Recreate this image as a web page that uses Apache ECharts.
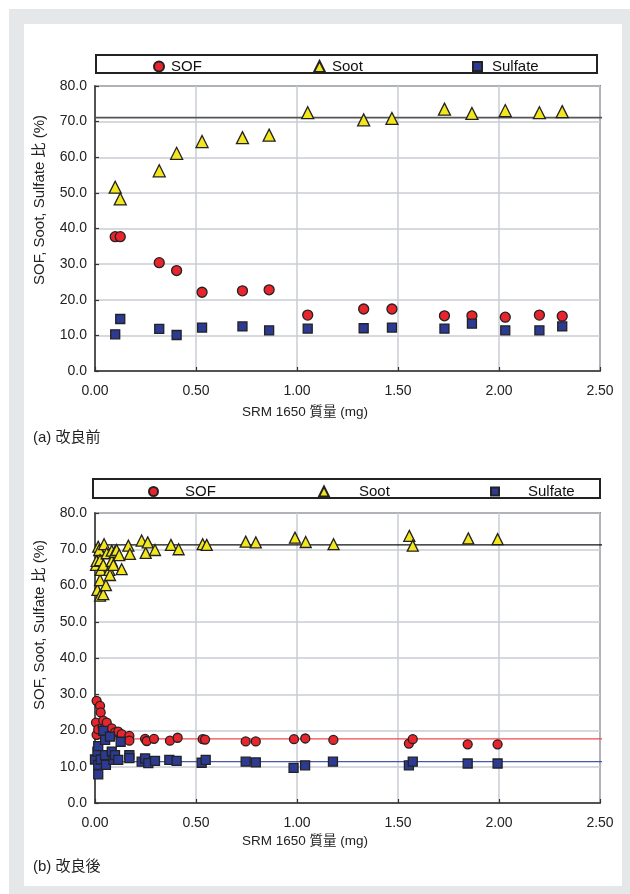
<!DOCTYPE html>
<html>
<head>
<meta charset="utf-8">
<script src="https://cdn.jsdelivr.net/npm/echarts@6/dist/echarts.min.js"></script>
<style>
  html, body { margin: 0; padding: 0; background: #ffffff; }
  #frame { position: absolute; left: 9px; top: 9px; width: 621px; height: 885px; background: #e6e7e9; }
  #panel { position: absolute; left: 24px; top: 24px; width: 598px; height: 862px; background: #ffffff; }
  #chart { position: absolute; left: 0; top: 0; width: 630px; height: 894px; }
</style>
</head>
<body>
<div id="frame"></div>
<div id="panel"></div>
<div id="chart"></div>
<script>
// Axis ticks shared by both panels
const xTicks = [0, 0.5, 1.0, 1.5, 2.0, 2.5];
const yTicks = [0, 10, 20, 30, 40, 50, 60, 70, 80];
// Horizontal reference lines run from x = 0 to just past the right frame
const refSpan = [0, 2.52];

// (a) before improvement: SRM 1650 mass (mg) per run and the three fractions (%)
const aMass    = [0.100, 0.125, 0.318, 0.404, 0.530, 0.730, 0.862, 1.053, 1.330, 1.470, 1.730, 1.866, 2.031, 2.200, 2.313];
const aSOF     = [37.7, 37.7, 30.4, 28.2, 22.1, 22.5, 22.8, 15.7, 17.4, 17.4, 15.5, 15.5, 15.1, 15.7, 15.4];
const aSoot    = [51.6, 48.3, 56.2, 61.1, 64.4, 65.5, 66.2, 72.5, 70.5, 70.9, 73.5, 72.3, 73.1, 72.5, 72.8];
const aSulfate = [10.3, 14.6, 11.8, 10.1, 12.2, 12.5, 11.4, 11.9, 12.0, 12.2, 11.9, 13.3, 11.4, 11.4, 12.5];
const aSootRef = 71.1;

// (b) after improvement
const bSootMass = [0.005, 0.008, 0.012, 0.016, 0.021, 0.025, 0.025, 0.025, 0.028, 0.041, 0.041, 0.045, 0.054, 0.058, 0.071, 0.074, 0.083, 0.083, 0.091, 0.099, 0.107, 0.120, 0.132, 0.165, 0.173, 0.231, 0.251, 0.261, 0.297, 0.376, 0.414, 0.533, 0.553, 0.746, 0.796, 0.990, 1.043, 1.181, 1.556, 1.573, 1.848, 1.993];
const bSoot     = [65.7, 66.8, 58.8, 70.7, 69.8, 67.0, 61.5, 57.2, 64.3, 65.7, 57.6, 71.4, 60.1, 68.9, 64.3, 62.9, 69.6, 66.8, 65.7, 69.3, 69.8, 68.4, 64.5, 71.0, 68.7, 72.4, 69.0, 71.9, 69.8, 71.2, 70.0, 71.4, 71.2, 72.1, 71.9, 73.2, 72.0, 71.4, 73.7, 71.0, 73.0, 72.8];
const bSOFMass  = [0.005, 0.008, 0.008, 0.016, 0.025, 0.028, 0.038, 0.041, 0.050, 0.058, 0.071, 0.083, 0.099, 0.115, 0.132, 0.170, 0.170, 0.248, 0.256, 0.292, 0.371, 0.409, 0.533, 0.545, 0.746, 0.796, 0.985, 1.041, 1.180, 1.554, 1.573, 1.845, 1.993];
const bSOF      = [22.2, 28.2, 18.8, 20.3, 26.8, 25.0, 21.0, 22.7, 20.8, 22.2, 19.7, 20.6, 19.5, 19.7, 19.0, 18.5, 17.2, 17.7, 17.1, 17.7, 17.2, 18.0, 17.6, 17.5, 17.0, 17.0, 17.6, 17.8, 17.4, 16.4, 17.6, 16.2, 16.2];
const bSulMass  = [0.000, 0.012, 0.016, 0.016, 0.016, 0.028, 0.041, 0.050, 0.050, 0.054, 0.074, 0.083, 0.091, 0.099, 0.115, 0.127, 0.170, 0.170, 0.231, 0.248, 0.264, 0.297, 0.368, 0.404, 0.528, 0.548, 0.746, 0.796, 0.983, 1.040, 1.178, 1.554, 1.573, 1.845, 1.993];
const bSulfate  = [12.0, 14.2, 15.7, 10.5, 7.9, 12.0, 19.9, 17.4, 13.2, 10.5, 18.3, 14.2, 11.9, 13.2, 11.9, 16.9, 13.2, 12.4, 11.4, 12.3, 11.0, 11.6, 11.9, 11.6, 11.1, 11.9, 11.4, 11.2, 9.7, 10.4, 11.4, 10.4, 11.4, 10.9, 10.9];
const bSootRef = 71.2, bSOFRef = 17.7, bSulRef = 11.4;

const FONT = "'Liberation Sans', Arial, 'Noto Sans CJK JP', sans-serif";
const RED = '#e8242c', YELLOW = '#f4e61c', NAVY = '#2c3a92', EDGE = '#222222';

const zip = (xs, ys) => xs.map((x, i) => [x, ys[i]]);

function xAxisFor(gi) {
  return {
    type: 'value', gridIndex: gi, min: xTicks[0], max: xTicks[xTicks.length - 1], interval: 0.5,
    axisLine: { show: true, onZero: false, lineStyle: { color: '#333', width: 1.5 } },
    axisTick: { show: true, inside: true, length: 4, lineStyle: { color: '#333', width: 1.2 } },
    axisLabel: { margin: 13, fontSize: 14, color: '#222', fontFamily: FONT, formatter: v => v.toFixed(2) },
    splitLine: { show: true, lineStyle: { color: '#c9ccd3', width: 1.5 } }
  };
}
function yAxisFor(gi) {
  return {
    type: 'value', gridIndex: gi, min: yTicks[0], max: yTicks[yTicks.length - 1], interval: 10,
    axisLine: { show: true, onZero: false, lineStyle: { color: '#333', width: 1.5 } },
    axisTick: { show: true, inside: true, length: 4, lineStyle: { color: '#333', width: 1.2 } },
    axisLabel: { margin: 8, fontSize: 14, color: '#222', fontFamily: FONT, formatter: v => v.toFixed(1) },
    splitLine: { show: true, lineStyle: { color: '#c9ccd3', width: 1.5 } }
  };
}
function refLine(gi, value, color, width) {
  return {
    type: 'line', xAxisIndex: gi, yAxisIndex: gi, silent: true, clip: false,
    showSymbol: false, symbol: 'none', z: 3, legendHoverLink: false,
    lineStyle: { color: color, width: width },
    data: refSpan.map(x => [x, value])
  };
}
function scatter(name, gi, data, symbol, size, color) {
  return {
    name: name, type: 'scatter', xAxisIndex: gi, yAxisIndex: gi,
    symbol: symbol, symbolSize: size, z: 5,
    itemStyle: { color: color, borderColor: EDGE, borderWidth: 1.3, opacity: 1 },
    data: data
  };
}
function legendItem(name, left, top, size, gap) {
  return {
    data: [name], left: left, top: top, itemWidth: size, itemHeight: size, itemGap: 0,
    selectedMode: false, padding: 0,
    textStyle: { fontSize: 15, color: '#111', fontFamily: FONT, padding: [0, 0, 0, gap] }
  };
}

const chart = echarts.init(document.getElementById('chart'), null, { renderer: 'canvas' });
chart.setOption({
  animation: false,
  grid: [
    { left: 95, top: 86, width: 505, height: 285, show: true, borderColor: '#333', borderWidth: 1.5, backgroundColor: 'transparent' },
    { left: 95, top: 513, width: 505, height: 290, show: true, borderColor: '#333', borderWidth: 1.5, backgroundColor: 'transparent' }
  ],
  xAxis: [xAxisFor(0), xAxisFor(1)],
  yAxis: [yAxisFor(0), yAxisFor(1)],
  legend: [
    legendItem('SOF', 153, 59, 10, 2),
    legendItem('Soot', 313, 59, 11, 2),
    legendItem('Sulfate', 472, 59, 9, 5),
    legendItem('SOF', 148, 484, 9, 22),
    legendItem('Soot', 318, 484, 10, 25),
    legendItem('Sulfate', 490, 484, 8, 24)
  ],
  series: [
    refLine(0, aSootRef, '#555555', 1.8),
    refLine(1, bSootRef, '#111111', 1.2),
    refLine(1, bSOFRef, '#f04848', 1.2),
    refLine(1, bSulRef, '#4a56aa', 1.2),
    scatter('Soot', 0, zip(aMass, aSoot), 'triangle', 12, YELLOW),
    scatter('SOF', 0, zip(aMass, aSOF), 'circle', 10, RED),
    scatter('Sulfate', 0, zip(aMass, aSulfate), 'rect', 9, NAVY),
    scatter('Soot', 1, zip(bSootMass, bSoot), 'triangle', 11, YELLOW),
    scatter('SOF', 1, zip(bSOFMass, bSOF), 'circle', 9, RED),
    scatter('Sulfate', 1, zip(bSulMass, bSulfate), 'rect', 9, NAVY)
  ],
  graphic: [
    { type: 'rect', shape: { x: 96, y: 55, width: 501, height: 18 }, style: { fill: 'none', stroke: '#222', lineWidth: 2 }, z: 0 },
    { type: 'rect', shape: { x: 93, y: 479, width: 507, height: 19 }, style: { fill: 'none', stroke: '#222', lineWidth: 2 }, z: 0 },
    { type: 'text', x: 40, y: 200, rotation: Math.PI / 2, style: { text: 'SOF, Soot, Sulfate 比 (%)', font: '15px ' + FONT, fill: '#222', textAlign: 'center', textVerticalAlign: 'middle' } },
    { type: 'text', x: 40, y: 625, rotation: Math.PI / 2, style: { text: 'SOF, Soot, Sulfate 比 (%)', font: '15px ' + FONT, fill: '#222', textAlign: 'center', textVerticalAlign: 'middle' } },
    { type: 'text', x: 305, y: 412, style: { text: 'SRM 1650 質量 (mg)', font: '13.5px ' + FONT, fill: '#222', textAlign: 'center', textVerticalAlign: 'middle' } },
    { type: 'text', x: 305, y: 841, style: { text: 'SRM 1650 質量 (mg)', font: '13.5px ' + FONT, fill: '#222', textAlign: 'center', textVerticalAlign: 'middle' } },
    { type: 'text', x: 33, y: 438, style: { text: '(a) 改良前', font: '15px ' + FONT, fill: '#222', textAlign: 'left', textVerticalAlign: 'middle' } },
    { type: 'text', x: 33, y: 867, style: { text: '(b) 改良後', font: '15px ' + FONT, fill: '#222', textAlign: 'left', textVerticalAlign: 'middle' } }
  ]
});
</script>
</body>
</html>
